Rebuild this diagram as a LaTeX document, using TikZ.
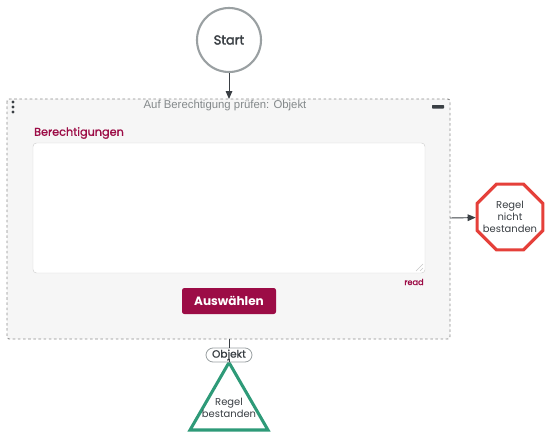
\documentclass[tikz,border=0pt]{standalone}
\usepackage{fontspec}
\setmainfont{Poppins}
\newfontfamily\titlefont{Liberation Sans}
\newfontfamily\mediumfont[FakeBold=1.2]{Poppins}
\newfontfamily\semibfont[FakeBold=2.6]{Poppins}
\usetikzlibrary{arrows.meta, positioning, calc, shapes.geometric}
\definecolor{FlowGray}{HTML}{9AA0A2}
\definecolor{TextDark}{HTML}{3A3F44}
\definecolor{PanelBg}{HTML}{F6F6F6}
\definecolor{Crimson}{HTML}{9C0C46}
\definecolor{PassGreen}{HTML}{2E9A78}
\definecolor{FailRed}{HTML}{E5403A}
\tikzset{
    flow/.style={draw=TextDark, line width=0.8pt, -{Triangle[length=2.4mm, width=2mm]}},
    ende/.style={line width=2.6pt, fill=white, inner sep=0pt, text=TextDark, font=\fontsize{8.5}{10}\selectfont, align=center},
}

\begin{document}
\begin{tikzpicture}[x=0.3mm, y=-0.3mm]
\useasboundingbox (0,0) rectangle (550,438);

% start
\node[circle, draw=FlowGray, line width=1.8pt, minimum size=64*0.3mm, inner sep=0pt,
      text=TextDark, font=\semibfont\fontsize{11}{13}\selectfont] (start) at (229,40) {Start};

% panel
\draw[black!45, line width=0.8pt, dash pattern=on 2.2pt off 2.2pt, fill=PanelBg, rounded corners=2pt]
    (7,99) rectangle (450,339);
\coordinate (paneltop) at (229,99);
\coordinate (panelbot) at (229,339);
\coordinate (panelright) at (450,218);
\node[font=\titlefont\fontsize{9.7}{11}\selectfont, text=FlowGray!85!black] (title) at (225,105.5)
    {Auf Berechtigung prüfen: Objekt};
\foreach \y in {102,107,112}{
    \fill[TextDark] (13,\y) circle (1.6);
}
\fill[TextDark, rounded corners=0.5pt] (432,105) rectangle (444,108.5);

% feld
\node[font=\mediumfont\fontsize{9.6}{11}\selectfont, text=Crimson, anchor=west] (feldlabel) at (30,133) {Berechtigungen};
\draw[black!18, fill=white, rounded corners=3pt] (33,143) rectangle (425,273);
\draw[black!22] (423,264) -- (416,271) (423,268) -- (420,271);
\node[font=\mediumfont\fontsize{7}{8}\selectfont, text=Crimson] (read) at (414,282) {read};

% knopf
\node[fill=Crimson, rounded corners=2pt, minimum width=94*0.3mm, minimum height=26*0.3mm,
      text=white, font=\bfseries\fontsize{10.3}{12}\selectfont] (knopf) at (229,301) {Auswählen};

% ergebnisse
\node[ende, draw=FailRed, regular polygon, regular polygon sides=8, minimum size=71*0.3mm] (fail) at (510,217) {};
\node[ende, fill=none, line width=0pt] (failtext) at (fail.center) {Regel\\nicht\\bestanden};
\node[ende, draw=PassGreen, regular polygon, regular polygon sides=3, minimum size=90*0.3mm] (pass) at (229,407.5) {};
\node[ende, fill=none, line width=0pt] (passtext) at (229,408) {Regel\\bestanden};

\node[draw=FlowGray, line width=0.7pt, fill=white, rounded corners=6pt, minimum width=46*0.3mm,
      minimum height=14*0.3mm, inner sep=0pt, text=TextDark, font=\mediumfont\fontsize{9}{10}\selectfont] (objekt) at (229,355) {Objekt};

% verbindungen
\draw[flow] (start) -- (paneltop);
\draw[flow] (panelright) -- (fail);
\draw[TextDark, line width=0.8pt] (panelbot) -- (objekt);
\draw[TextDark, line width=0.8pt] (objekt) -- (pass.corner 1);

\end{tikzpicture}
\end{document}
